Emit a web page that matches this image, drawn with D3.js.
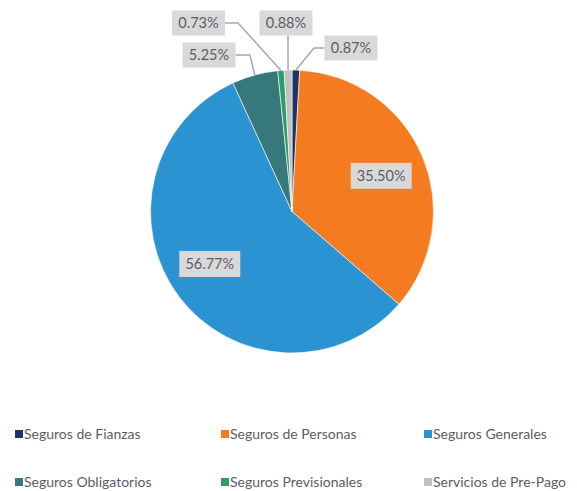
<!doctype html>
<html lang="es">
<head>
<meta charset="utf-8">
<title>Distribución por ramo</title>
<script src="https://d3js.org/d3.v7.min.js"></script>
<style>
  body { margin: 0; background: #fff; }
  svg text { font-family: Lato, "Open Sans", sans-serif; }
</style>
</head>
<body>
<svg width="577" height="491"></svg>
<script>
// data, clockwise from 12 o'clock
var categories = ['Seguros de Fianzas', 'Seguros de Personas', 'Seguros Generales',
                  'Seguros Obligatorios', 'Seguros Previsionales', 'Servicios de Pre-Pago'];
var shares = [0.87, 35.50, 56.77, 5.25, 0.73, 0.88];
var colors = ['#1f3267', '#f47b20', '#2b93d2', '#37787a', '#2e9c69', '#c0c0c0'];

var svg = d3.select('svg');
var cx = 292, cy = 211.5, r = 141.5;

var pie = d3.pie().sort(null).value(function(d){ return d; });
var arcs = pie(shares);
var arc = d3.arc().innerRadius(0).outerRadius(r);
var labelArc = d3.arc().innerRadius(r * 0.7).outerRadius(r * 0.7);

var g = svg.append('g').attr('transform', 'translate(' + cx + ',' + cy + ')');

g.selectAll('path.slice').data(arcs).enter()
  .append('path')
    .attr('class', 'slice')
    .attr('d', arc)
    .attr('fill', function(d, i){ return colors[i]; })
    .attr('stroke', '#fff')
    .attr('stroke-width', 0.6);

// label placement: inside labels get a nudge off the centroid,
// outside ones a box centre + elbow, relative to pie centre
var outside = [
  { box: [59, -163.5], elbow: [22, -163.5] },
  { nudge: [-2, 3] },
  { nudge: [-3, -7] },
  { box: [-83, -156.5], elbow: [-42, -156.5] },
  { box: [-93.5, -188.5], elbow: [-54, -188.5] },
  { box: [-6, -188.5], elbow: [-4, -176] }
];

function pct(v){ return v.toFixed(2) + '%'; }

var boxW = 53, boxH = 25, bigW = 61, bigH = 26;

arcs.forEach(function(d, i){
  var o = outside[i];
  var pos, w, h;
  if (o.box) {
    var a = (d.startAngle + d.endAngle) / 2;
    var px = r * Math.sin(a), py = -r * Math.cos(a);
    pos = o.box; w = boxW; h = boxH;
    var edge = o.box[0] > o.elbow[0] ? o.box[0] - w / 2 : o.box[0] + w / 2;
    var pts = i === 5
      ? [[o.box[0] + 2, o.box[1] + h / 2], [px, py]]
      : [[edge, o.box[1]], o.elbow, [px, py]];
    g.append('path')
      .attr('d', d3.line()(pts))
      .attr('fill', 'none')
      .attr('stroke', '#a5a8b4')
      .attr('stroke-width', 1.5);
  } else {
    var c = labelArc.centroid(d);
    pos = [c[0] + o.nudge[0], c[1] + o.nudge[1]]; w = bigW; h = bigH;
  }
  g.append('rect')
    .attr('x', pos[0] - w / 2).attr('y', pos[1] - h / 2)
    .attr('width', w).attr('height', h)
    .attr('fill', '#d9d9d9');
  g.append('text')
    .attr('x', pos[0]).attr('y', pos[1])
    .attr('dy', '0.36em')
    .attr('text-anchor', 'middle')
    .attr('font-size', 14.5)
    .attr('fill', '#5b5c66')
    .text(pct(shares[i]));
});

// legend, 3 columns x 2 rows
var colX = [15, 221, 424], rowY = [434, 482];
var leg = svg.selectAll('g.leg').data(categories).enter()
  .append('g')
    .attr('class', 'leg')
    .attr('transform', function(d, i){
      return 'translate(' + colX[i % 3] + ',' + rowY[Math.floor(i / 3)] + ')';
    });
leg.append('rect')
  .attr('x', 0).attr('y', -4).attr('width', 8).attr('height', 8)
  .attr('fill', function(d, i){ return colors[i]; });
leg.append('text')
  .attr('x', 9).attr('y', 0).attr('dy', '0.36em')
  .attr('font-size', 14)
  .attr('fill', '#5b5c66')
  .text(function(d){ return d; });
</script>
</body>
</html>
